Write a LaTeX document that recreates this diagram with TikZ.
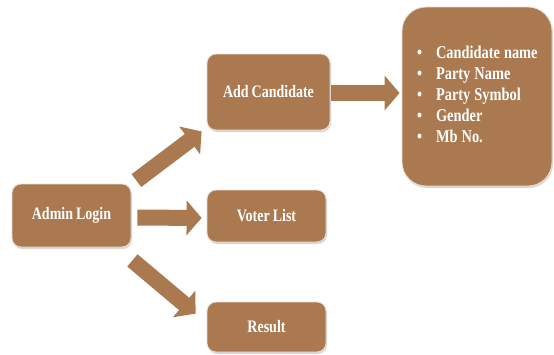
\documentclass[tikz,border=0pt]{standalone}
\usepackage{fontspec}
\setmainfont{Liberation Serif}
\newfontfamily\narrowserif[FakeStretch=0.8,WordSpace=0.85]{Liberation Serif}
\usetikzlibrary{arrows.meta,calc,shadows}

\definecolor{boxbrown}{RGB}{170,121,80}

\tikzset{
  stepbox/.style={draw=white!75!boxbrown, line width=0.8pt, fill=boxbrown, rounded corners=9pt,
    text=white, font=\narrowserif\fontsize{17.5}{21}\selectfont\bfseries, inner sep=0pt,
    drop shadow={opacity=0.3, shadow xshift=1pt, shadow yshift=-2pt}},
  bigarrow/.style={draw=boxbrown, line width=16pt, -{Triangle[length=15pt,width=34pt]}}
}

\begin{document}
\begin{tikzpicture}[x=1pt,y=-1pt]
			\useasboundingbox (0,0) rectangle (554,354);

			\node[stepbox, minimum width=119pt, minimum height=63pt] 	(admin) 	at (71.5,215.5) 	{Admin Login};
			\node[stepbox, minimum width=123pt, minimum height=76pt] 	(addcand) 	at (268.5,92) 		{Add Candidate};
			\node[stepbox, minimum width=119pt, minimum height=52pt] 	(voters) 	at (266.5,216) 		{Voter List};
			\node[stepbox, minimum width=119pt, minimum height=50pt] 	(result) 	at (266.5,327) 		{Result};
			\node[stepbox, rounded corners=24pt, minimum width=150pt, minimum height=179pt, text width=150pt, align=left,
				font=\narrowserif\fontsize{18}{21}\selectfont\bfseries] 	(details) 	at (477,96.5)
				{\hspace*{15pt}\begin{tabular}{@{}l@{\hspace{14pt}}l@{}}
					\textbullet & Candidate\hspace{4pt}name\\
					\textbullet & Party\hspace{4pt}Name\\
					\textbullet & Party\hspace{4pt}Symbol\\
					\textbullet & Gender\\
					\textbullet & Mb\hspace{4pt}No.
				\end{tabular}};

			\draw[bigarrow] ($(admin.north east)+(5,-3)$) -- ($(addcand.south west)+(-5,1)$);
			\draw[bigarrow] ($(admin.east)+(6,2)$) -- ($(voters.west)+(-5,2)$);
			\draw[bigarrow] ($(admin.south east)+(1,13)$) -- ($(result.north west)+(-11,12)$);
			\draw[bigarrow] ($(addcand.east)+(1,1)$) -- ($(addcand.east -| details.west)+(-2,1)$);
		\end{tikzpicture}
\end{document}
